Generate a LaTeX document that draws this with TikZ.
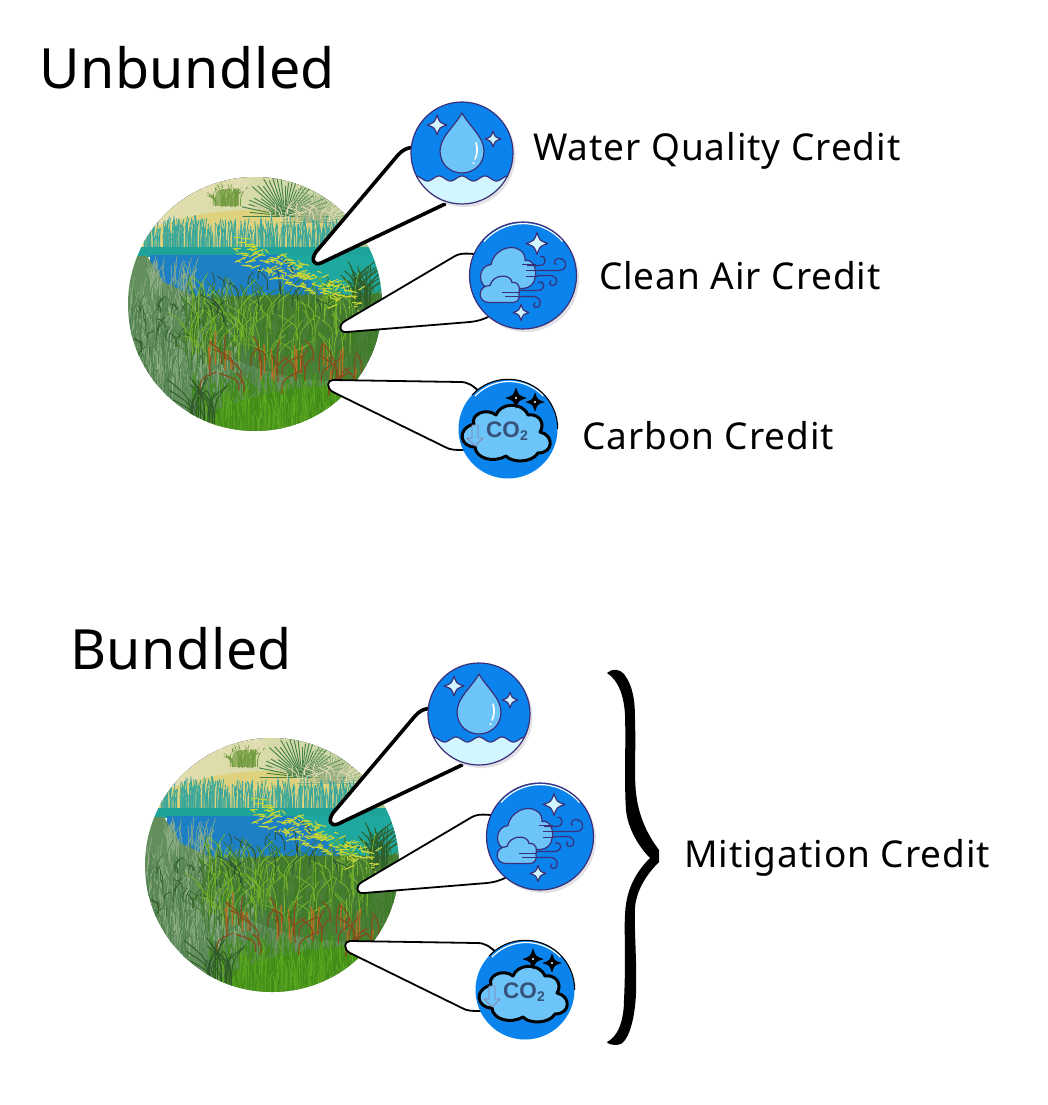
\documentclass[tikz,border=0pt]{standalone}
\usepackage{fontspec}
\setmainfont{Noto Sans}
\newfontfamily\titlefont[LetterSpace=1]{Noto Sans}
\newfontfamily\labelfont[LetterSpace=2.5]{Noto Sans}
\newfontfamily\cofont{Liberation Sans}
\definecolor{iconblue}{HTML}{0A84EC}
\definecolor{iconline}{HTML}{3A2F78}
\definecolor{cloudblue}{HTML}{6CC4F8}
\definecolor{paleice}{HTML}{D2F6FF}
\definecolor{iconshadow}{HTML}{E2E2E6}
\definecolor{cotext}{HTML}{37517A}
\tikzset{
  x=1pt,y=-1pt,
  callthick/.style={draw=black,fill=white,line width=3.6pt,line cap=round,line join=round},
  callthin/.style={draw=black,fill=white,line width=1.8pt,line cap=round,line join=round},
  iconedge/.style={draw=iconline,line width=1.2pt,line join=round},
  titletext/.style={font=\fontsize{55.5}{60}\selectfont\titlefont,anchor=west,inner sep=0pt},
  labeltext/.style={font=\fontsize{37}{42}\selectfont\labelfont,anchor=west,inner sep=0pt},
}
% count x0 x1 y0 y1 len lean colour width
\newcommand\blades[9]{%
  \foreach \i in {1,...,#1}{%
    \pgfmathsetmacro\bx{#2+rnd*(#3-#2)}%
    \pgfmathsetmacro\by{#4+rnd*(#5-#4)}%
    \pgfmathsetmacro\bl{#6*(0.6+0.8*rnd)}%
    \pgfmathsetmacro\bs{#7*(2*rnd-1)}%
    \draw[#8,line width=#9pt,line cap=round] (\bx,\by) .. controls (\bx,\by-0.6*\bl) .. (\bx+\bs,\by-\bl);
  }%
}
% radial fan: cx cy radius colour width
\newcommand\frond[5]{%
  \foreach \a in {0,6,...,180}{%
    \pgfmathsetmacro\rr{#3*(0.7+0.4*rnd)}%
    \draw[#4,line width=#5pt,line cap=round] (#1,#2) -- ++({\rr*cos(\a)},{-\rr*sin(\a)});
  }%
}
% yellow reeds along the diagonal of the scene
\newcommand\reeds[1]{%
  \foreach \i in {1,...,#1}{%
    \pgfmathsetmacro\bx{-18+rnd*123}%
    \pgfmathsetmacro\by{-55+(\bx+18)*0.43+rnd*26-13}%
    \pgfmathsetmacro\bs{rnd*20-10}%
    \pgfmathsetmacro\bt{rnd*8-4}%
    \draw[cC9D636,line width=1.1pt,line cap=round] (\bx,\by) -- ++(\bs,\bt);
  }%
}
\newcommand\glint[4]{% x y size style
  \filldraw[#4] (#1-#3,#2) .. controls (#1-0.25*#3,#2-0.25*#3) .. (#1,#2-#3)
     .. controls (#1+0.25*#3,#2-0.25*#3) .. (#1+#3,#2)
     .. controls (#1+0.25*#3,#2+0.25*#3) .. (#1,#2+#3)
     .. controls (#1-0.25*#3,#2+0.25*#3) .. cycle;
}
\definecolor{cE8DFB0}{HTML}{E8DFB0}\definecolor{cC4D6A0}{HTML}{C4D6A0}
\definecolor{cDFD27E}{HTML}{DFD27E}\definecolor{sageG}{HTML}{6F9A3E}
\definecolor{cE9E0BB}{HTML}{E9E0BB}\definecolor{palmG}{HTML}{3F7F48}
\definecolor{cE9DDB8}{HTML}{E9DDB8}\definecolor{cA9C98F}{HTML}{A9C98F}
\definecolor{c1FA29A}{HTML}{1FA29A}\definecolor{c2E9F96}{HTML}{3AA79C}
\definecolor{c1E80C4}{HTML}{1E80C4}\definecolor{c1FA8A0}{HTML}{1FA8A0}
\definecolor{c7FA378}{HTML}{628F5C}\definecolor{cmidG}{HTML}{4A7F3A}
\definecolor{c9AB892}{HTML}{8FAE86}
\definecolor{c5E8F5A}{HTML}{4E7F4C}\definecolor{c4F9A1C}{HTML}{4F9A1C}
\definecolor{c3F8A18}{HTML}{3F8A18}\definecolor{c2F5A28}{HTML}{2F5A28}
\definecolor{c3C7A24}{HTML}{3C7A24}\definecolor{c2F5F2A}{HTML}{2F5F2A}
\definecolor{c78B628}{HTML}{78B628}\definecolor{c2D4F36}{HTML}{2D4F36}
\definecolor{cC9D636}{HTML}{C9D636}\definecolor{cB8701E}{HTML}{B8701E}
\definecolor{c8A4A1C}{HTML}{8A4A1C}\definecolor{cbright}{HTML}{5CA81F}
\newcommand\wetland[3]{% name cx cy
  \begin{scope}[shift={(#2,#3)}]
    \coordinate (#1) at (0,0);
    \begin{scope}
      \clip (0,0) circle[radius=127];
      \pgfmathsetseed{4711}
      \fill[left color=cE8DFB0,right color=cC4D6A0] (-127,-127) rectangle (127,-60);
      \fill[cDFD27E] (-115,-70) .. controls (-70,-95) and (10,-100) .. (60,-88) .. controls (75,-84) and (85,-78) .. (95,-55) -- (-115,-50) -- cycle;
      \fill[sageG!70!cE8DFB0] (-40,-115) rectangle (-16,-98);
      \blades{24}{-42}{-14}{-97}{-99}{16}{9}{sageG}{0.8}
      \blades{26}{-60}{-8}{-108}{-118}{10}{14}{cE9E0BB}{0.7}
      \frond{30}{-88}{40}{palmG}{0.9}
      \frond{58}{-82}{36}{palmG!45!cE9DDB8}{0.9}
      \blades{18}{15}{85}{-82}{-92}{10}{16}{cE9DDB8}{0.8}
      \fill[cA9C98F] (85,-88) -- (127,-70) -- (127,-40) -- (95,-52) -- cycle;
      \blades{320}{-112}{95}{-50}{-56}{24}{3}{c2E9F96}{0.8}
      \fill[c1FA29A] (-127,-57) rectangle (127,-47);
      \fill[c1E80C4] (-105,-49) -- (35,-49) -- (72,-18) -- (72,8) -- (-105,8) -- cycle;
      \fill[c1FA8A0] (25,-49) -- (127,-49) -- (127,-5) -- (80,0) -- (62,-18) -- cycle;
      \fill[c7FA378] (-127,-48) -- (-108,-48) -- (-92,-22) -- (-60,-8) -- (-20,0) -- (70,0) -- (127,-12) -- (127,127) -- (-127,127) -- cycle;
      \blades{46}{-105}{-60}{-20}{-5}{22}{6}{c9AB892}{0.6}
      \fill[cmidG] (-60,-2) .. controls (-20,-12) and (60,-8) .. (127,-10) -- (127,75) .. controls (60,82) and (10,70) .. (-20,55) .. controls (-40,40) and (-60,20) .. (-60,-2) -- cycle;
      \blades{300}{-125}{-15}{-5}{95}{22}{6}{c9AB892}{0.6}
      \blades{300}{-125}{0}{0}{105}{20}{7}{c5E8F5A}{0.7}
      \blades{40}{-125}{-40}{5}{60}{10}{10}{c2F5A28}{0.7}
      \fill[c4F9A1C] (-70,127) .. controls (-30,92) and (40,78) .. (127,82) -- (127,127) -- cycle;
      \blades{300}{-65}{110}{90}{132}{24}{4}{c3F8A18}{0.8}
      \blades{110}{-50}{100}{95}{132}{20}{4}{cbright}{0.8}
      \blades{22}{-65}{-40}{118}{127}{36}{24}{c2F5A28}{0.9}
      \blades{300}{-70}{125}{10}{68}{30}{18}{c3C7A24}{0.7}
      \blades{34}{98}{116}{-4}{6}{30}{30}{c2F5F2A}{0.9}
      \blades{110}{-70}{100}{0}{65}{28}{20}{c78B628}{0.7}
      \blades{22}{-50}{80}{-30}{30}{16}{18}{c2D4F36}{0.8}
      \reeds{170}
      \blades{18}{-50}{108}{60}{85}{24}{2}{cB8701E}{1.3}
      \blades{34}{-55}{108}{55}{92}{20}{20}{c8A4A1C}{1.1}
    \end{scope}
  \end{scope}
}
\newcommand\watericon[2]{%
  \begin{scope}[shift={(#1,#2)}]
    \fill[iconshadow] (2.5,3) circle[radius=51];
    \fill[iconblue] (0,0) circle[radius=51];
    \begin{scope}
      \clip (0,0) circle[radius=51];
      \fill[paleice] plot[domain=-54:54,samples=80,smooth] (\x,{25.5-2.5*cos(\x*15.65)}) -- (54,54) -- (-54,54) -- cycle;
      \draw[iconedge] plot[domain=-54:54,samples=80,smooth] (\x,{25.5-2.5*cos(\x*15.65)});
    \end{scope}
    \filldraw[iconedge,fill=cloudblue] (0,-40) .. controls (8,-26) and (22,-16) .. (22,-2) .. controls (22,12) and (11,20) .. (0,20) .. controls (-11,20) and (-22,12) .. (-22,-2) .. controls (-22,-16) and (-8,-26) .. cycle;
    \draw[white,line width=1.6pt,line cap=round] (14,-10) .. controls (16,-4) and (15,2) .. (13,6);
    \fill[white] (11.5,10) circle[radius=1.2];
    \draw[iconline,line width=1.2pt] (0,0) circle[radius=51];
    \glint{-25}{-28}{10}{iconedge,fill=paleice}
    \glint{31}{-14}{8}{iconedge,fill=paleice}
  \end{scope}
}
\newcommand\airicon[2]{%
  \begin{scope}[shift={(#1,#2)}]
    \fill[iconshadow] (2.5,3) circle[radius=53.5];
    \fill[iconblue] (0,0) circle[radius=53.5];
    \draw[white,line width=1.2pt] (-39,-34) arc[start angle=221,end angle=319,radius=52];
    \draw[iconline,line width=1.2pt] (0,0) circle[radius=53.5];
    \filldraw[iconedge,fill=cloudblue] (-8,13) -- (-32,13) .. controls (-46,13) and (-46,-10) .. (-32,-11) .. controls (-30,-24) and (-14,-32) .. (-4,-26) .. controls (2,-23) and (2,-18) .. (2,-15) .. controls (12,-17) and (14,-2) .. (12,2) .. controls (12,8) and (6,13) .. (0,13) -- cycle;
    \draw[iconedge] (-1,-11) -- (13,-11) (3,-5) -- (16,-5) (3,1) -- (15,1);
    \filldraw[iconedge,fill=cloudblue] (-34,27) .. controls (-46,27) and (-46,10) .. (-33,10) .. controls (-30,-2) and (-12,-2) .. (-11,7) .. controls (-3,6) and (-3,14) .. (-4,17) .. controls (-3,23) and (-5,27) .. (-10,27) -- cycle;
    \draw[iconedge] (-21,17) -- (-3,17) (-18,21) -- (-3,21);
    \draw[iconedge] (4,-10) -- (16,-10) .. controls (26,-10) and (22,-22) .. (17,-19);
    \draw[iconedge] (14,-5) -- (36,-5) .. controls (46,-5) and (44,-18) .. (35,-17) .. controls (31,-16) and (30,-12) .. (33,-11);
    \draw[iconedge] (14,0) -- (26,0) .. controls (36,0) and (36,10) .. (29,10) .. controls (26,9) and (26,6) .. (28,5);
    \draw[iconedge] (-4,15) -- (14,15) .. controls (24,15) and (22,4) .. (15,7);
    \draw[iconedge] (-4,21) -- (12,21) .. controls (18,22) and (20,31) .. (13,32) .. controls (10,31) and (10,29) .. (12,27);
    \glint{14}{-32}{11}{iconedge,fill=paleice}
    \glint{-2}{37}{8}{iconedge,fill=paleice}
  \end{scope}
}
\newcommand\coicon[3]{%
  \begin{scope}[shift={(#2,#3)}]
    \fill[iconblue] (0,0) circle[radius=49.5];
    \draw[white,line width=1.2pt] (-33,-33) arc[start angle=224,end angle=316,radius=47.5];
    \draw[black,line width=1.1pt] (-36,-34) arc[start angle=223,end angle=360,radius=49.5];
    \filldraw[black,line width=3pt,fill=cloudblue,line join=round] (-33,18) .. controls (-48,18) and (-52,0) .. (-34,-5) .. controls (-38,-14) and (-22,-22) .. (-12,-14) .. controls (-8,-26) and (14,-28) .. (20,-14) .. controls (30,-16) and (38,-6) .. (32,3) .. controls (46,6) and (46,24) .. (30,24) .. controls (24,34) and (4,34) .. (-2,27) .. controls (-14,34) and (-32,30) .. (-33,18) -- cycle;
    \filldraw[draw=iconline!60,line width=.9pt,fill=cloudblue,line join=round] (-36,-4) -- (-30,-4) -- (-30,9) -- (-25,9) -- (-33,17) -- (-41,9) -- (-36,9) -- cycle;
    \node[inner sep=0pt,text=cotext,font=\fontsize{22.5}{23}\selectfont\cofont\bfseries] (#1co) at (-5,1) {CO};
    \node[inner sep=0pt,text=cotext,font=\fontsize{14}{14}\selectfont\cofont\bfseries] (#1two) at (16,7) {2};
    \glint{8}{-31}{10}{black,fill=black}
    \glint{27}{-27}{9}{black,fill=black}
    \fill[white] (8,-31) circle[radius=1.2] (27,-27) circle[radius=1.2];
  \end{scope}
}
% one wetland with its three call-outs and icons; #1 prefix, #2 #3 offset
\newcommand\cluster[3]{%
  \begin{scope}[shift={(#2,#3)}]
    \wetland{#1scene}{255}{304}
    \coordinate (#1wa) at (416,147);
    \coordinate (#1wb) at (445,204);
    \coordinate (#1aa) at (474,254);
    \coordinate (#1ab) at (490,316);
    \coordinate (#1ca) at (480,392);
    \coordinate (#1cb) at (466,450);
    \filldraw[callthick] (#1wa) .. controls (405,148) and (403,150) .. (398,155) -- (316,252) .. controls (311,259) and (313,266) .. (321,263) -- (#1wb);
    \filldraw[callthin] (#1aa) .. controls (462,253) and (459,254) .. (455,256) -- (345,321) .. controls (338,325) and (339,333) .. (347,332) -- (470,322) .. controls (478,321) and (482,320) .. (#1ab);
    \filldraw[callthin] (#1ca) .. controls (472,385) and (468,382) .. (460,382) -- (333,380) .. controls (327,380) and (326,388) .. (333,392) -- (445,447) .. controls (450,450) and (455,450) .. (#1cb);
    \watericon{462}{153}
    \airicon{523}{275.5}
    \coicon{#1}{508}{429}
  \end{scope}
}
\begin{document}
\begin{tikzpicture}
  \useasboundingbox (0,0) rectangle (1048,1105);
  \fill[white] (0,0) rectangle (1048,1105);
  \node[titletext] (titleA) at (39,68) {Unbundled};
  \node[titletext] (titleB) at (70,649) {Bundled};
  \cluster{a}{0}{0}
  \cluster{b}{17}{561}
  \node[labeltext] (lblW) at (533,151) {Water Quality Credit};
  \node[labeltext] (lblA) at (599,276) {Clean Air Credit};
  \node[labeltext] (lblC) at (582,436) {Carbon Credit};
  \node[labeltext] (lblM) at (684,858) {Mitigation Credit};
  \fill[black] (607,673) .. controls (612,668) and (620,669) .. (624,674)
    .. controls (633,686) and (635,700) .. (635,720)
    .. controls (636,750) and (634,775) .. (636,793)
    .. controls (639,820) and (650,838) .. (659,850)
    -- (659,862)
    .. controls (648,873) and (637,888) .. (635,907)
    .. controls (634,930) and (637,960) .. (636,993)
    .. controls (635,1020) and (628,1045) .. (617,1045)
    .. controls (612,1045) and (608,1044) .. (607,1042)
    .. controls (618,1037) and (624,1020) .. (624,1000)
    .. controls (626,960) and (624,930) .. (625,915)
    .. controls (626,885) and (640,868) .. (650,858)
    .. controls (640,848) and (628,830) .. (626,810)
    .. controls (624,780) and (626,745) .. (625,715)
    .. controls (624,695) and (618,680) .. (607,673) -- cycle;
\end{tikzpicture}
\end{document}
